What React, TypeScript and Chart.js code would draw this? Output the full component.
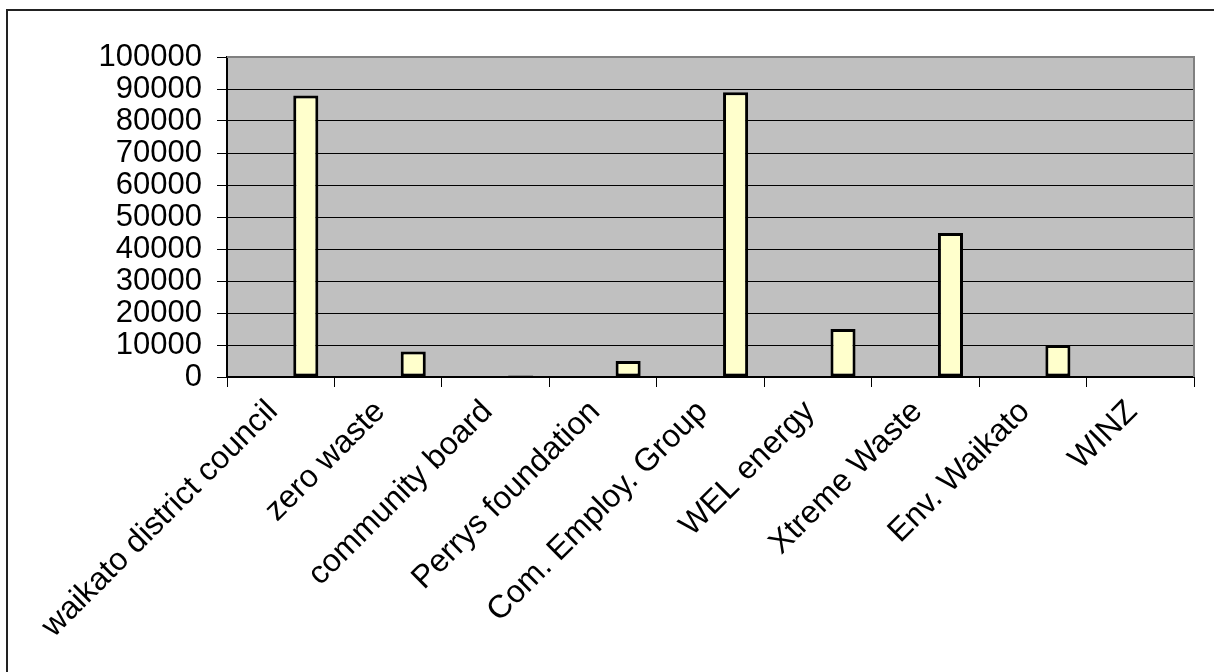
import React, { useEffect, useRef } from "react";
import { Chart, registerables } from "chart.js";

Chart.register(...registerables);

const categories = [
  "waikato district council",
  "zero waste",
  "community board",
  "Perrys foundation",
  "Com. Employ. Group",
  "WEL energy",
  "Xtreme Waste",
  "Env. Waikato",
  "WINZ",
];

const fundingValues: (number | null)[] = [88000, 8000, 500, 5000, 89000, 15000, 45000, 10000, null];
const emptySeries: (number | null)[] = [null, null, null, null, null, null, null, null, null];

const yMin = 0;
const yMax = 100000;
const yStep = 10000;

const plotBackground = {
  id: "plotBackground",
  beforeDraw(chart: any) {
    const { ctx, chartArea } = chart;
    if (!chartArea) return;
    ctx.save();
    ctx.fillStyle = "#C0C0C0";
    ctx.fillRect(chartArea.left, chartArea.top, chartArea.right - chartArea.left, chartArea.bottom - chartArea.top);
    ctx.restore();
  },
  afterDatasetsDraw(chart: any) {
    const { ctx, chartArea } = chart;
    if (!chartArea) return;
    ctx.save();
    ctx.strokeStyle = "#808080";
    ctx.lineWidth = 2;
    ctx.beginPath();
    ctx.moveTo(chartArea.left, chartArea.top);
    ctx.lineTo(chartArea.right, chartArea.top);
    ctx.lineTo(chartArea.right, chartArea.bottom);
    ctx.stroke();
    ctx.restore();
  },
};

export default function App() {
  const canvasRef = useRef<HTMLCanvasElement | null>(null);

  useEffect(() => {
    if (!canvasRef.current) return;
    const yFont = { family: "'Liberation Sans', Arial, sans-serif", size: 31 };
    const xFont = { family: "'Liberation Sans', Arial, sans-serif", size: 32 };
    const chart = new Chart(canvasRef.current, {
      type: "bar",
      data: {
        labels: categories,
        datasets: [
          { data: emptySeries, backgroundColor: "#FFFFCC", borderColor: "#000", borderWidth: 3 },
          { data: emptySeries, backgroundColor: "#FFFFCC", borderColor: "#000", borderWidth: 3 },
          {
            data: fundingValues,
            backgroundColor: "#FFFFCC",
            borderColor: "#000000",
            borderWidth: 3,
            borderSkipped: false,
          },
        ],
      },
      options: {
        animation: false,
        responsive: true,
        maintainAspectRatio: false,
        datasets: { bar: { categoryPercentage: 0.7, barPercentage: 1.0 } },
        layout: { padding: { top: 57, right: 20, bottom: 0, left: 0 } },
        plugins: { legend: { display: false }, tooltip: { enabled: false }, title: { display: false } },
        scales: {
          x: {
            offset: true,
            afterFit(scale: any) {
              scale.height = 295;
            },
            grid: {
              offset: true,
              drawOnChartArea: false,
              drawTicks: true,
              tickLength: 10,
              color: "#000",
              lineWidth: 1,
            },
            border: { display: true, color: "#000", width: 2 },
            ticks: {
              color: "#000",
              font: xFont,
              autoSkip: false,
              maxRotation: 45,
              minRotation: 45,
              padding: 6,
              labelOffset: -8,
            },
          },
          y: {
            min: yMin,
            max: yMax,
            afterFit(scale: any) {
              scale.width = 227;
            },
            grid: {
              color: "#000",
              lineWidth: 1,
              tickLength: 10,
              drawTicks: true,
            },
            border: { display: true, color: "#000", width: 2 },
            ticks: {
              stepSize: yStep,
              autoSkip: false,
              color: "#000",
              font: yFont,
              padding: 15,
              callback: (v: any) => String(v),
            },
          },
        },
      },
      plugins: [plotBackground],
    });
    return () => chart.destroy();
  }, []);

  return (
    <div style={{ position: "fixed", left: 0, top: 0, width: 1214, height: 672, overflow: "hidden", background: "#fff" }}>
      <div
        style={{
          position: "absolute",
          left: 6,
          top: 9,
          width: 1400,
          height: 900,
          border: "2px solid #222",
          boxSizing: "border-box",
        }}
      />
      <div style={{ position: "absolute", left: 0, top: 0, width: 1214, height: 672 }}>
        <canvas ref={canvasRef} />
      </div>
    </div>
  );
}
